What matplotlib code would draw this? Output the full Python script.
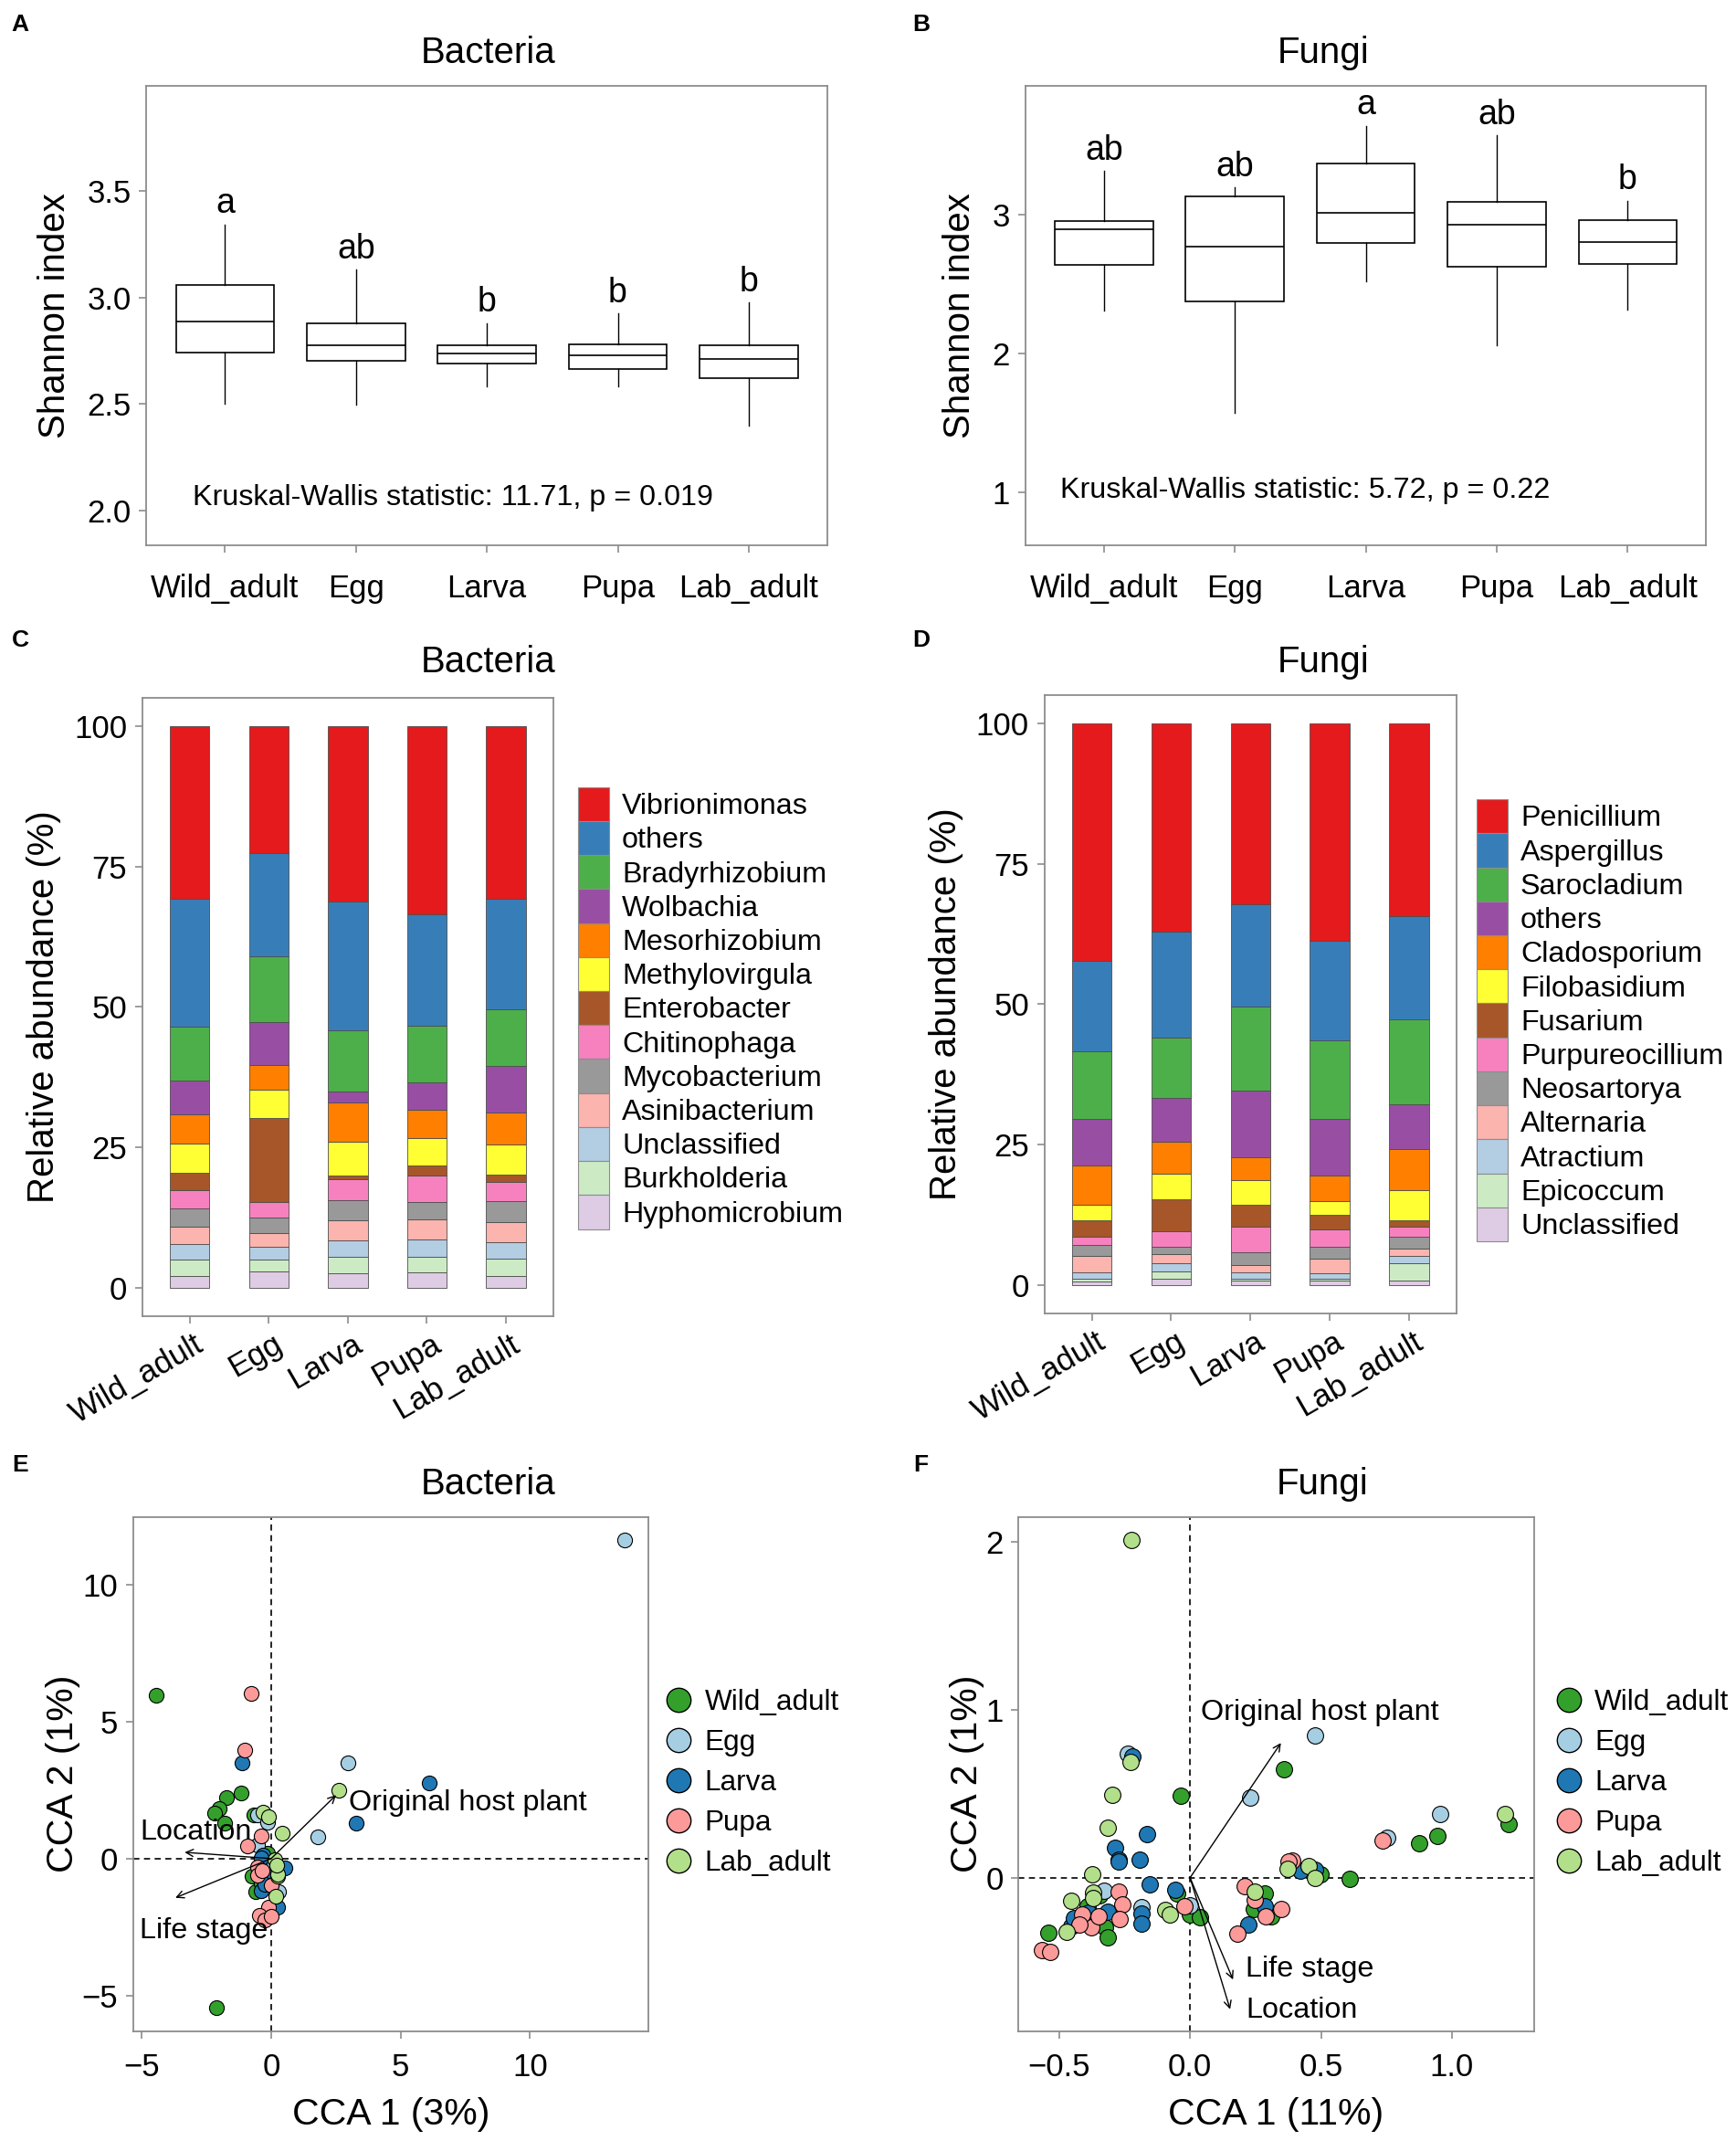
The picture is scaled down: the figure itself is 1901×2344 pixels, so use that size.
import matplotlib
matplotlib.use('Agg')
import matplotlib.pyplot as plt
from matplotlib.lines import Line2D
from matplotlib.patches import Patch
from matplotlib.transforms import ScaledTranslation

plt.rcParams['font.family'] = ['Liberation Sans', 'DejaVu Sans']

# ---------------- data ----------------
stages = ['Wild_adult', 'Egg', 'Larva', 'Pupa', 'Lab_adult']

# Shannon index box stats (whisker low, Q1, median, Q3, whisker high)
bac_whislo = [2.500, 2.495, 2.583, 2.581, 2.396]
bac_q1 = [2.739, 2.700, 2.691, 2.663, 2.621]
bac_med = [2.886, 2.775, 2.737, 2.726, 2.710]
bac_q3 = [3.059, 2.876, 2.775, 2.780, 2.775]
bac_whishi = [3.342, 3.131, 2.878, 2.924, 2.975]
bac_letters = ['a', 'ab', 'b', 'b', 'b']
bac_kw = 'Kruskal-Wallis statistic: 11.71, p = 0.019'

fun_whislo = [2.306, 1.571, 2.519, 2.061, 2.312]
fun_q1 = [2.636, 2.373, 2.796, 2.621, 2.641]
fun_med = [2.892, 2.770, 3.009, 2.924, 2.800]
fun_q3 = [2.950, 3.131, 3.362, 3.087, 2.956]
fun_whishi = [3.309, 3.192, 3.636, 3.566, 3.096]
fun_letters = ['ab', 'ab', 'a', 'ab', 'b']
fun_kw = 'Kruskal-Wallis statistic: 5.72, p = 0.22'

# relative abundance (%), legend order (top of stack first)
bac_taxa = ['Vibrionimonas', 'others', 'Bradyrhizobium', 'Wolbachia', 'Mesorhizobium',
            'Methylovirgula', 'Enterobacter', 'Chitinophaga', 'Mycobacterium',
            'Asinibacterium', 'Unclassified', 'Burkholderia', 'Hyphomicrobium']
bac_abund = [
    [30.8, 22.6, 31.2, 33.5, 30.8],
    [22.7, 18.5, 23.0, 19.9, 19.6],
    [9.7, 11.6, 10.9, 10.1, 10.1],
    [6.0, 7.7, 2.0, 4.9, 8.3],
    [5.2, 4.3, 6.9, 5.0, 5.8],
    [5.2, 5.1, 6.1, 4.9, 5.3],
    [3.1, 15.0, 0.6, 1.7, 1.3],
    [3.2, 2.8, 3.7, 4.8, 3.4],
    [3.3, 2.7, 3.7, 3.1, 3.7],
    [3.1, 2.4, 3.5, 3.5, 3.6],
    [2.8, 2.4, 3.0, 3.2, 2.9],
    [2.8, 2.1, 2.9, 2.7, 3.1],
    [2.1, 2.8, 2.5, 2.7, 2.1],
]

fun_taxa = ['Penicillium', 'Aspergillus', 'Sarocladium', 'others', 'Cladosporium',
            'Filobasidium', 'Fusarium', 'Purpureocillium', 'Neosartorya',
            'Alternaria', 'Atractium', 'Epicoccum', 'Unclassified']
fun_abund = [
    [42.3, 37.1, 32.3, 38.8, 34.4],
    [16.1, 18.9, 18.1, 17.6, 18.3],
    [12.0, 10.8, 15.1, 14.1, 15.1],
    [8.4, 7.7, 11.8, 10.0, 8.1],
    [6.9, 5.8, 4.1, 4.6, 7.2],
    [2.9, 4.4, 4.4, 2.5, 5.4],
    [2.9, 5.7, 3.8, 2.5, 1.1],
    [1.4, 2.9, 4.6, 3.1, 1.8],
    [1.9, 1.3, 2.3, 2.2, 2.1],
    [3.0, 1.5, 1.3, 2.5, 1.3],
    [1.1, 1.6, 1.2, 1.0, 1.4],
    [0.6, 1.3, 0.2, 0.3, 3.0],
    [0.5, 1.0, 0.8, 0.8, 0.8],
]

taxa_colors = ['#E41A1C', '#377EB8', '#4DAF4A', '#984EA3', '#FF7F00', '#FFFF33',
               '#A65628', '#F781BF', '#999999', '#FBB4AE', '#B3CDE3', '#CCEBC5', '#DECBE4']

# CCA sample scores, group index into stages
bac_x = [-4.45, -1.15, -1.72, -2.02, -2.17, -1.79, -0.66, -0.13, 0.17, -0.73, 0.18, -0.59, -0.38, -2.11, -0.20, 0.05,
         13.64, 2.96, -0.51, -0.13, 1.79, -0.51, 0.30, 0.10,
         -1.13, 6.11, 3.28, -0.30, -0.38, 0.53, -0.18, -0.38, 0.24, -0.25,
         -0.77, -1.02, -0.38, -0.91, -0.53, -0.53, 0.00, -0.12, -0.47, -0.24, 0.00, -0.35,
         2.62, -0.30, -0.09, 0.43, 0.13, 0.24, 0.18, 0.26, 0.20]
bac_y = [5.98, 2.40, 2.23, 1.82, 1.65, 1.28, 1.58, 0.20, -0.47, -0.63, -0.48, -1.21, -0.90, -5.43, -0.30, -0.95,
         11.62, 3.50, 1.58, 1.33, 0.78, 0.48, -1.21, -0.20,
         3.50, 2.75, 1.28, 0.12, 0.04, -0.34, -0.65, -1.18, -1.77, -0.95,
         6.03, 3.95, 0.82, 0.45, -0.30, -0.59, -0.98, -1.77, -2.08, -2.23, -2.10, -0.45,
         2.48, 1.68, 1.53, 0.92, -0.05, -0.63, -1.37, -0.58, -0.25]
bac_grp = [0] * 16 + [1] * 8 + [2] * 10 + [3] * 12 + [4] * 9

fun_x = [0.360, -0.034, 1.218, 0.943, 0.874, 0.498, 0.611, -0.345, -0.050, -0.002, 0.038, -0.324, -0.313, -0.540,
         0.284, 0.242, 0.309, -0.390,
         0.477, -0.237, 0.231, 0.954, 0.754, -0.330, -0.002, -0.187,
         -0.220, -0.166, -0.288, -0.271, -0.271, -0.193, 0.422, 0.477, -0.155, -0.057, -0.187, -0.187, -0.315,
         -0.387, -0.454, -0.443, 0.284, 0.223,
         0.735, 0.389, 0.376, -0.273, -0.260, -0.023, -0.269, -0.376, -0.351, -0.412, -0.424, -0.565, -0.534,
         0.208, 0.246, 0.347, 0.288, 0.181,
         -0.225, -0.229, -0.296, 1.204, -0.315, 0.372, 0.452, 0.477, -0.374, -0.370, -0.372, -0.454, -0.095,
         -0.078, -0.473, 0.248]
fun_y = [0.645, 0.490, 0.318, 0.250, 0.207, 0.019, -0.008, -0.103, -0.095, -0.218, -0.234, -0.294, -0.356, -0.329,
         -0.095, -0.185, -0.231, -0.170,
         0.846, 0.740, 0.480, 0.378, 0.237, -0.076, -0.166, -0.177,
         0.720, 0.261, 0.177, 0.106, 0.095, 0.106, 0.041, 0.046, -0.041, -0.073, -0.212, -0.275, -0.204,
         -0.207, -0.288, -0.239, -0.171, -0.280,
         0.223, 0.100, 0.095, -0.084, -0.158, -0.171, -0.248, -0.297, -0.231, -0.218, -0.280, -0.430, -0.444,
         -0.052, -0.131, -0.188, -0.231, -0.335,
         2.010, 0.690, 0.495, 0.381, 0.297, 0.052, 0.068, -0.003, 0.019, -0.090, -0.122, -0.136, -0.193,
         -0.220, -0.321, -0.082]
fun_grp = [0] * 18 + [1] * 8 + [2] * 18 + [3] * 18 + [4] * 16

group_colors = ['#33A02C', '#A6CEE3', '#1F78B4', '#FB9A99', '#B2DF8A']

env_names = ['Location', 'Life stage', 'Original host plant']
bac_env_x = [-3.34, -3.70, 2.51]
bac_env_y = [0.23, -1.43, 2.32]
fun_env_x = [0.153, 0.164, 0.347]
fun_env_y = [-0.784, -0.607, 0.803]

# ---------------- layout helpers (reference coords 1280 x 1578) ----------------
W0, H0 = 1280.0, 1578.0


def rect(l, r, t, b):
    return [l / W0, 1 - b / H0, (r - l) / W0, (b - t) / H0]


def fxy(x, y):
    return (x / W0, 1 - y / H0)


fig = plt.figure(figsize=(19.01, 23.44), dpi=100)

SPINE = '#8c8c8c'
TICK_FS = 25
LAB_FS = 29


def style(ax):
    for s in ax.spines.values():
        s.set_color(SPINE)
        s.set_linewidth(1.3)
    ax.tick_params(direction='out', length=6, width=1.2, color=SPINE,
                   labelsize=TICK_FS, labelcolor='black')


def boxpanel(rc, whislo, q1, med, q3, whishi, letters, kw, ylim, yticks, kwpos):
    ax = fig.add_axes(rc)
    stats = []
    for i in range(len(stages)):
        stats.append(dict(whislo=whislo[i], q1=q1[i], med=med[i], q3=q3[i],
                          whishi=whishi[i], fliers=[]))
    ax.bxp(stats, positions=range(1, 6), widths=0.75, showcaps=False, showfliers=False,
           patch_artist=True,
           boxprops=dict(facecolor='white', edgecolor='black', linewidth=1.2),
           medianprops=dict(color='black', linewidth=1.2),
           whiskerprops=dict(color='black', linewidth=1.0))
    for i, lt in enumerate(letters):
        ax.annotate(lt, xy=(i + 1, whishi[i]), xytext=(0, 9), textcoords='offset points',
                    ha='center', va='baseline', fontsize=27)
    ax.text(kwpos[0], kwpos[1], kw, ha='left', va='center', fontsize=23.2)
    ax.set_xlim(0.4, 5.6)
    ax.set_ylim(*ylim)
    ax.set_yticks(yticks)
    ax.set_xticks(range(1, 6))
    ax.set_xticklabels(stages)
    style(ax)
    ax.tick_params(axis='x', pad=16)
    ax.tick_params(axis='y', pad=6)
    ax.set_ylabel('Shannon index', fontsize=LAB_FS, labelpad=12)
    return ax


axA = boxpanel(rect(108, 610, 63, 402), bac_whislo, bac_q1, bac_med, bac_q3, bac_whishi,
               bac_letters, bac_kw, (1.835, 3.995), [2.0, 2.5, 3.0, 3.5], (0.75, 2.057))
axA.set_yticklabels(['2.0', '2.5', '3.0', '3.5'])
axB = boxpanel(rect(756, 1258, 63, 402), fun_whislo, fun_q1, fun_med, fun_q3, fun_whishi,
               fun_letters, fun_kw, (0.62, 3.925), [1, 2, 3], (0.67, 1.015))


def barpanel(rc, taxa, abund, leg_xy):
    ax = fig.add_axes(rc)
    x = list(range(1, 6))
    bottom = [0.0] * 5
    handles = []
    for k in range(len(taxa) - 1, -1, -1):
        ax.bar(x, abund[k], width=0.5, bottom=bottom, color=taxa_colors[k],
               edgecolor='#4d4d4d', linewidth=0.6)
        bottom = [b + v for b, v in zip(bottom, abund[k])]
    for k in range(len(taxa)):
        handles.append(Patch(facecolor=taxa_colors[k], edgecolor='#8c8c8c', linewidth=0.8,
                             label=taxa[k]))
    ax.set_xlim(0.4, 5.6)
    ax.set_ylim(-5.1, 105.1)
    ax.set_yticks([0, 25, 50, 75, 100])
    ax.set_xticks(x)
    ax.set_xticklabels(stages, rotation=30, ha='right', va='top', rotation_mode='anchor')
    style(ax)
    ax.tick_params(axis='x', pad=4)
    ax.tick_params(axis='y', pad=6)
    off = ScaledTranslation(3 / 72, 0, fig.dpi_scale_trans)
    for lab in ax.get_xticklabels():
        lab.set_transform(lab.get_transform() + off)
    ax.set_ylabel('Relative abundance (%)', fontsize=LAB_FS, labelpad=10)
    fig.legend(handles=handles, loc='center left', bbox_to_anchor=fxy(*leg_xy),
               bbox_transform=fig.transFigure, frameon=False, fontsize=23.2,
               borderpad=0, borderaxespad=0, labelspacing=0.0, handlelength=1.03,
               handleheight=1.4, handletextpad=0.45)
    return ax


axC = barpanel(rect(105, 408, 514, 970), bac_taxa, bac_abund, (426.5, 743))
axD = barpanel(rect(770, 1074, 512, 968), fun_taxa, fun_abund, (1089, 752))


def ccapanel(rc, xs, ys, grp, envx, envy, lab_pos, xlim, ylim, xticks, yticks, xlabel, leg_xy, msize):
    ax = fig.add_axes(rc)
    ax.axhline(0, color='black', linestyle=(0, (4, 3)), linewidth=1.2, zorder=1)
    ax.axvline(0, color='black', linestyle=(0, (4, 3)), linewidth=1.2, zorder=1)
    for g in range(len(stages)):
        gx = [xs[i] for i in range(len(xs)) if grp[i] == g]
        gy = [ys[i] for i in range(len(ys)) if grp[i] == g]
        ax.scatter(gx, gy, s=msize, color=group_colors[g], edgecolors='black',
                   linewidths=0.8, zorder=3)
    for i in range(len(env_names)):
        ax.annotate('', xy=(envx[i], envy[i]), xytext=(0, 0),
                    arrowprops=dict(arrowstyle='->', color='black', lw=1.0,
                                    mutation_scale=14, shrinkA=0, shrinkB=0), zorder=4)
        ax.text(lab_pos[i][0], lab_pos[i][1], env_names[i], ha='left', va='center',
                fontsize=23.3, zorder=5)
    ax.set_xlim(*xlim)
    ax.set_ylim(*ylim)
    ax.set_xticks(xticks)
    ax.set_yticks(yticks)
    style(ax)
    ax.tick_params(axis='x', pad=11)
    ax.tick_params(axis='y', pad=6)
    ax.set_xlabel(xlabel, fontsize=29.5, labelpad=11)
    ax.set_ylabel('CCA 2 (1%)', fontsize=29.5, labelpad=1)
    handles = [Line2D([], [], linestyle='none', marker='o', markersize=19,
                      markerfacecolor=group_colors[g], markeredgecolor='black',
                      markeredgewidth=1.0, label=stages[g]) for g in range(len(stages))]
    fig.legend(handles=handles, loc='center left', bbox_to_anchor=fxy(*leg_xy),
               bbox_transform=fig.transFigure, frameon=False, fontsize=22.7,
               borderpad=0, borderaxespad=0, labelspacing=0.44, handlelength=0.8,
               handletextpad=0.5)
    return ax


axE = ccapanel(rect(98, 478, 1118, 1497), bac_x, bac_y, bac_grp, bac_env_x, bac_env_y,
               [(-5.08, 0.95), (-5.08, -2.63), (3.0, 2.03)],
               (-5.34, 14.57), (-6.3, 12.48), [-5, 0, 5, 10], [-5, 0, 5, 10],
               'CCA 1 (3%)', (492, 1314), 135)
axF = ccapanel(rect(751, 1131, 1118, 1497), fun_x, fun_y, fun_grp, fun_env_x, fun_env_y,
               [(0.212, -0.789), (0.212, -0.544), (0.042, 0.985)],
               (-0.655, 1.313), (-0.914, 2.15), [-0.5, 0.0, 0.5, 1.0], [0, 1, 2],
               'CCA 1 (11%)', (1148, 1314), 165)
axF.set_xticklabels(['\u22120.5', '0.0', '0.5', '1.0'])

# titles and panel letters
titles = [('Bacteria', 360, 39), ('Fungi', 976, 39), ('Bacteria', 360, 488),
          ('Fungi', 976, 488), ('Bacteria', 360, 1094), ('Fungi', 975, 1094)]
for t, x, y in titles:
    fig.text(*fxy(x, y), t, ha='center', va='center', fontsize=29)

letters = [('A', 15, 18), ('B', 679, 18), ('C', 15, 472), ('D', 679, 472),
           ('E', 15, 1080), ('F', 679, 1080)]
for t, x, y in letters:
    fig.text(*fxy(x, y), t, ha='center', va='center', fontsize=19, fontweight='bold')

fig.savefig('out.png', dpi=100)
